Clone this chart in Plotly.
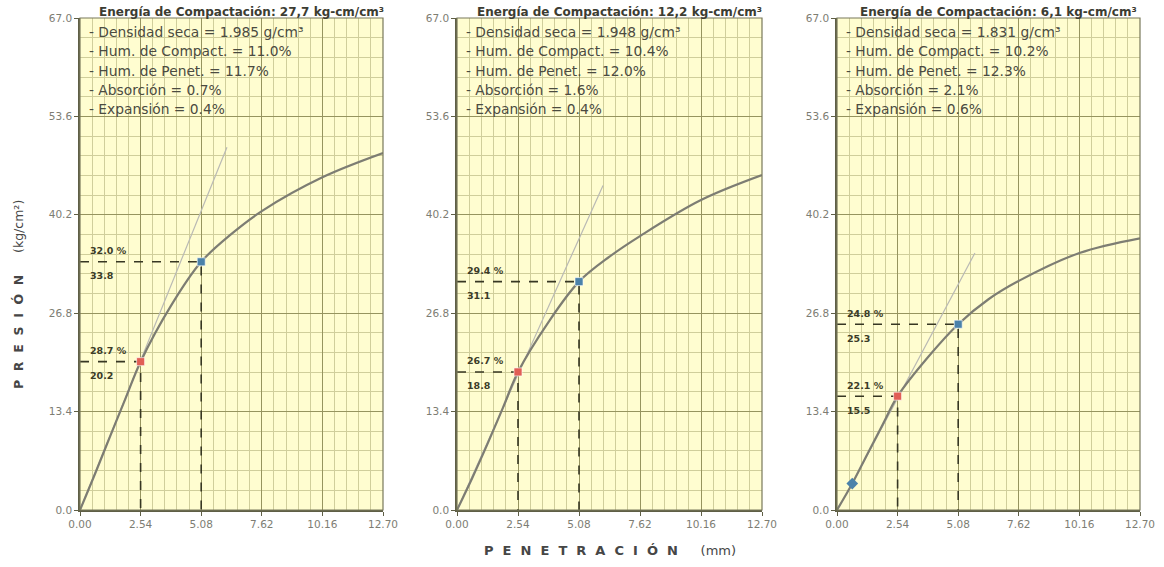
import plotly.graph_objects as go

# ---------------- data ----------------
penetration = [0.0, 0.64, 1.27, 1.91, 2.54, 3.81, 5.08, 6.35, 7.62, 10.16, 12.70]
pressure_1 = [0.0, 5.0, 10.1, 15.2, 20.2, 27.8, 33.8, 37.6, 40.7, 45.3, 48.6]
pressure_2 = [0.0, 4.4, 9.0, 13.9, 18.8, 25.6, 31.1, 34.5, 37.3, 42.2, 45.6]
pressure_3 = [0.0, 3.6, 7.6, 11.6, 15.5, 20.8, 25.3, 28.7, 31.2, 35.0, 37.0]

tangent_x_1 = [0.0, 6.16]
tangent_y_1 = [0.0, 49.4]
tangent_x_2 = [0.0, 6.08]
tangent_y_2 = [0.0, 44.2]
tangent_x_3 = [0.64, 5.78]
tangent_y_3 = [3.6, 35.0]

ref_pen = [2.54, 5.08]
ref_press_1 = [20.2, 33.8]
ref_press_2 = [18.8, 31.1]
ref_press_3 = [15.5, 25.3]
cbr_1 = ["28.7 %", "32.0 %"]
cbr_2 = ["26.7 %", "29.4 %"]
cbr_3 = ["22.1 %", "24.8 %"]
val_lbl_1 = ["20.2", "33.8"]
val_lbl_2 = ["18.8", "31.1"]
val_lbl_3 = ["15.5", "25.3"]

zero_corr_x_3 = [0.64]
zero_corr_y_3 = [3.6]

titles = ["Energía de Compactación: 27,7 kg-cm/cm³",
          "Energía de Compactación: 12,2 kg-cm/cm³",
          "Energía de Compactación: 6,1 kg-cm/cm³"]
info_1 = ["- Densidad seca = 1.985 g/cm³", "- Hum. de Compact. = 11.0%",
          "- Hum. de Penet. = 11.7%", "- Absorción = 0.7%", "- Expansión = 0.4%"]
info_2 = ["- Densidad seca = 1.948 g/cm³", "- Hum. de Compact. = 10.4%",
          "- Hum. de Penet. = 12.0%", "- Absorción = 1.6%", "- Expansión = 0.4%"]
info_3 = ["- Densidad seca = 1.831 g/cm³", "- Hum. de Compact. = 10.2%",
          "- Hum. de Penet. = 12.3%", "- Absorción = 2.1%", "- Expansión = 0.6%"]

x_ticks = [0.00, 2.54, 5.08, 7.62, 10.16, 12.70]
x_tick_text = ["0.00", "2.54", "5.08", "7.62", "10.16", "12.70"]
y_ticks = [0.0, 13.4, 26.8, 40.2, 53.6, 67.0]
y_tick_text = ["0.0", "13.4", "26.8", "40.2", "53.6", "67.0"]

# ---------------- styling ----------------
W, H = 1164, 567
FONT = "DejaVu Sans, Liberation Sans, sans-serif"
BG = "rgb(255,253,208)"
MAJOR = "rgb(150,148,95)"
MINOR = "rgb(208,206,155)"
CURVE = "rgb(125,125,115)"
TANG = "rgb(185,185,180)"
DASH = "rgb(55,55,35)"
RED = "rgb(225,95,85)"
BLUE = "rgb(75,130,170)"


def px_x(v):
    return v / W


def px_y(v):
    return 1 - v / H


x_domains = [(px_x(80), px_x(383)), (px_x(457), px_x(762)), (px_x(837), px_x(1140))]
y_domain = (px_y(510), px_y(18))

fig = go.Figure()

panels = [
    (pressure_1, tangent_x_1, tangent_y_1, ref_press_1, cbr_1, val_lbl_1, info_1),
    (pressure_2, tangent_x_2, tangent_y_2, ref_press_2, cbr_2, val_lbl_2, info_2),
    (pressure_3, tangent_x_3, tangent_y_3, ref_press_3, cbr_3, val_lbl_3, info_3),
]

annotations = []
for i, (press, tx, ty, rp, cbr, vl, info) in enumerate(panels):
    suf = "" if i == 0 else str(i + 1)
    xa, ya = "x" + suf, "y" + suf
    fig.add_trace(go.Scatter(x=tx, y=ty, mode="lines", xaxis=xa, yaxis=ya,
                             line=dict(color=TANG, width=1.2), hoverinfo="skip"))
    for px, py in zip(ref_pen, rp):
        fig.add_trace(go.Scatter(x=[0, px, px], y=[py, py, 0], mode="lines",
                                 xaxis=xa, yaxis=ya,
                                 line=dict(color=DASH, width=1.6, dash="dash"),
                                 hoverinfo="skip"))
    fig.add_trace(go.Scatter(x=penetration, y=press, mode="lines", xaxis=xa, yaxis=ya,
                             line=dict(color=CURVE, width=2.2, shape="spline", smoothing=1.0)))
    fig.add_trace(go.Scatter(x=ref_pen, y=rp, mode="markers", xaxis=xa, yaxis=ya,
                             marker=dict(color=[RED, BLUE], size=8, symbol="square",
                                         line=dict(color="rgba(255,255,255,0.6)", width=1))))
    if i == 2:
        fig.add_trace(go.Scatter(x=zero_corr_x_3, y=zero_corr_y_3, mode="markers",
                                 xaxis=xa, yaxis=ya,
                                 marker=dict(color=BLUE, size=9, symbol="diamond")))
    for py, c, v in zip(rp, cbr, vl):
        annotations.append(dict(x=0, y=py, xref=xa, yref=ya, text="<b>" + c + "</b>",
                                showarrow=False, xanchor="left", yanchor="middle",
                                xshift=8, yshift=11,
                                font=dict(family=FONT, size=9.5, color="rgb(60,60,40)")))
        annotations.append(dict(x=0, y=py, xref=xa, yref=ya, text="<b>" + v + "</b>",
                                showarrow=False, xanchor="left", yanchor="middle",
                                xshift=8, yshift=-14,
                                font=dict(family=FONT, size=9.5, color="rgb(60,60,40)")))
    annotations.append(dict(x=0.5, y=1.0, xref=xa + " domain", yref=ya + " domain",
                            text="<b>" + titles[i] + "</b>", showarrow=False,
                            xanchor="center", yanchor="bottom", yshift=-3, xshift=10,
                            font=dict(family=FONT, size=12, color="rgb(60,60,50)")))
    for k, line in enumerate(info):
        annotations.append(dict(x=0, y=1.0, xref=xa + " domain", yref=ya + " domain",
                                text=line, showarrow=False, xanchor="left", yanchor="middle",
                                xshift=7, yshift=-14 - 19.3 * k,
                                font=dict(family=FONT, size=13.8, color="rgb(75,75,65)")))

    axis_common = dict(showline=True, linecolor="rgb(95,95,70)", linewidth=1.5, mirror=False,
                       showgrid=True, gridcolor=MAJOR, gridwidth=1, zeroline=False,
                       automargin=False,
                       tickfont=dict(family=FONT, size=10.5, color="rgb(125,125,115)"),
                       ticks="outside", ticklen=4, tickcolor="rgb(95,95,70)")
    fig.update_layout(**{
        "xaxis" + suf: dict(axis_common, domain=list(x_domains[i]), range=[0, 12.70],
                            tickvals=x_ticks, ticktext=x_tick_text, anchor=ya,
                            minor=dict(dtick=0.508, tick0=0, showgrid=True,
                                       gridcolor=MINOR, gridwidth=1, ticks="")),
        "yaxis" + suf: dict(axis_common, domain=list(y_domain), range=[0, 67.0],
                            tickvals=y_ticks, ticktext=y_tick_text, anchor=xa,
                            minor=dict(dtick=2.68, tick0=0, showgrid=True,
                                       gridcolor=MINOR, gridwidth=1, ticks="")),
    })
    fig.add_shape(type="rect", xref=xa + " domain", yref=ya + " domain",
                  x0=0, y0=0, x1=1, y1=1, line=dict(color="rgb(120,120,90)", width=1.2),
                  layer="above")

annotations.append(dict(x=px_x(18), y=px_y(295), xref="paper", yref="paper",
                        text="<b>P  R  E  S  I  Ó  N     </b>(kg/cm²)", textangle=-90,
                        showarrow=False, xanchor="center", yanchor="middle",
                        font=dict(family=FONT, size=12.5, color="rgb(70,70,70)")))
annotations.append(dict(x=px_x(610), y=px_y(550), xref="paper", yref="paper",
                        text="<b>P  E  N  E  T  R  A  C  I  Ó  N     </b>(mm)",
                        showarrow=False, xanchor="center", yanchor="middle",
                        font=dict(family=FONT, size=13, color="rgb(70,70,70)")))

fig.update_layout(width=W, height=H, margin=dict(l=0, r=0, t=0, b=0),
                  paper_bgcolor="white", plot_bgcolor=BG, showlegend=False,
                  annotations=annotations)

fig.write_html("out.html", config={"displayModeBar": False},
               post_script="document.body.style.margin='0';document.body.style.overflow='hidden';")
